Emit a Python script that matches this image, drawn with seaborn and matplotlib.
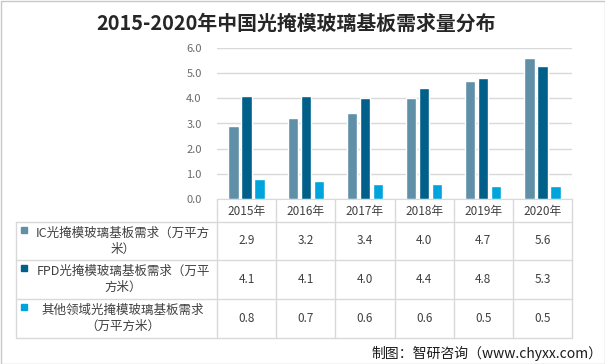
import pandas as pd
import numpy as np
import matplotlib
matplotlib.use("Agg")
import matplotlib.pyplot as plt
import seaborn as sns
from matplotlib.patches import Rectangle

years = ["2015年", "2016年", "2017年", "2018年", "2019年", "2020年"]
series = ["IC光掩模玻璃基板需求（万平方米）",
          "FPD光掩模玻璃基板需求（万平方米）",
          "其他领域光掩模玻璃基板需求（万平方米）"]
row_labels = ["IC光掩模玻璃基板需求（万平方\n米）",
              "FPD光掩模玻璃基板需求（万平\n方米）",
              "其他领域光掩模玻璃基板需求\n（万平方米）"]
ic = [2.9, 3.2, 3.4, 4.0, 4.7, 5.6]
fpd = [4.1, 4.1, 4.0, 4.4, 4.8, 5.3]
other = [0.8, 0.7, 0.6, 0.6, 0.5, 0.5]
colors = ["#5f90a8", "#00608a", "#00a4dc"]

df = pd.DataFrame({
    "year": years * 3,
    "series": [series[0]] * 6 + [series[1]] * 6 + [series[2]] * 6,
    "value": ic + fpd + other,
})

sns.set_style("white")
plt.rcParams['font.family'] = ['Noto Sans CJK SC', 'DejaVu Sans']

W, H = 605, 364
fig = plt.figure(figsize=(W / 100, H / 100), dpi=100)

# pixel layout of the plot area
x0, x1 = 217, 572
y_top, y_bot = 48, 199
ax = fig.add_axes([x0 / W, 1 - y_bot / H, (x1 - x0) / W, (y_bot - y_top) / H])
sns.barplot(data=df, x="year", y="value", hue="series", palette=colors,
            width=0.66, gap=0.2, ax=ax, legend=False, saturation=1)
ax.set_xlim(-0.5, 5.5)
ax.set_ylim(0, 6)
ax.set_yticks(np.arange(0, 6.01, 1))
ax.set_yticklabels([f"{v:.1f}" for v in np.arange(0, 6.01, 1)])
ax.tick_params(axis="y", labelsize=8, labelcolor="#6b6b6b", length=0, pad=11)
ax.set_xticks([])
ax.set_xlabel("")
ax.set_ylabel("")
ax.yaxis.grid(True, color="#d9d9d9", lw=1)
ax.set_axisbelow(True)
for s in ["top", "left", "right"]:
    ax.spines[s].set_visible(False)
ax.spines["bottom"].set_color("#d9d9d9")

# overlay for table, title and source
ov = fig.add_axes([0, 0, 1, 1], zorder=-1)
ov.set_xlim(0, W)
ov.set_ylim(H, 0)
ov.axis("off")

grid_c = "#d9d9d9"
col_w = (x1 - x0) / 6
rows = [222, 260, 299, 338]
lx = 16
for i in range(7):
    ov.plot([x0 + i * col_w] * 2, [y_bot, rows[-1]], color=grid_c, lw=1)
ov.plot([lx, lx], [rows[0], rows[-1]], color=grid_c, lw=1)
for r in rows:
    ov.plot([lx, x1], [r, r], color=grid_c, lw=1)

for i, y in enumerate(years):
    ov.text(x0 + (i + 0.5) * col_w, (y_bot + rows[0]) / 2 + 1, y,
            ha="center", va="center", fontsize=8.5, color="#404040")

table_vals = [ic, fpd, other]
for r, vals in enumerate(table_vals):
    yc = (rows[r] + rows[r + 1]) / 2
    ov.add_patch(Rectangle((21, rows[r] + 5), 6, 6, color=colors[r]))
    ov.text(123, yc, row_labels[r], ha="center", va="center",
            multialignment="center", fontsize=9, color="#404040",
            linespacing=1.3)
    for i, v in enumerate(vals):
        ov.text(x0 + (i + 0.5) * col_w, yc, f"{v:.1f}", ha="center",
                va="center", fontsize=8.5, color="#404040")

ov.text(296, 23, "2015-2020年中国光掩模玻璃基板需求量分布", ha="center",
        va="center", fontsize=14.3, fontweight="bold", color="#262626")
ov.text(602, 353, "制图：智研咨询（www.chyxx.com）", ha="right",
        va="center", fontsize=10, color="#1a1a1a")

ov.add_patch(Rectangle((0.5, 0.5), W - 1, H - 1, fill=False,
                       edgecolor="#c8c8c8", lw=1))

fig.savefig("out.png", dpi=100, facecolor="white")
